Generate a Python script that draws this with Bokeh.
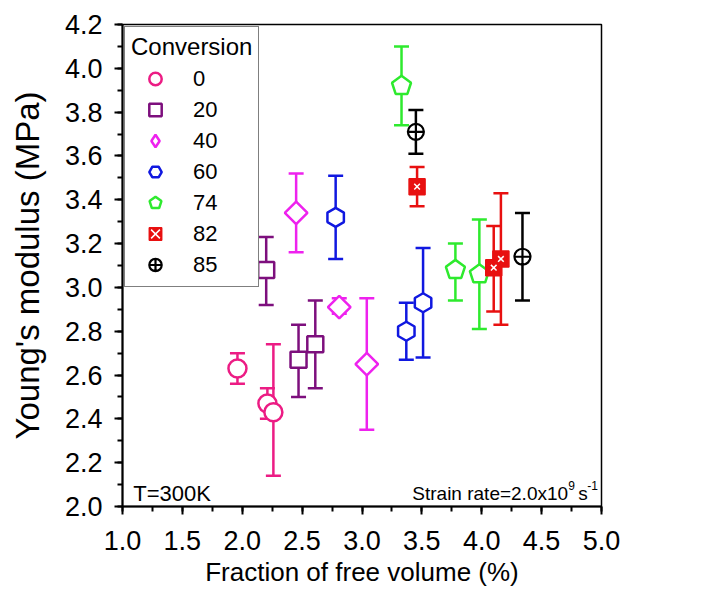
import math
from bokeh.plotting import figure
from bokeh.models import (ColumnDataSource, Whisker, TeeHead, Legend, LegendItem,
                          Label, Range1d, SingleIntervalTicker, PrintfTickFormatter)
from bokeh.embed import file_html
from bokeh.resources import INLINE

FONT = "Liberation Sans"

# ---- data ----
conversions = ["0", "20", "40", "60", "74", "82", "85"]

x_c0 = [1.96, 2.21, 2.26]
y_c0 = [2.63, 2.47, 2.43]
lo_c0 = [2.56, 2.40, 2.14]
hi_c0 = [2.70, 2.54, 2.74]

x_c20 = [2.20, 2.47, 2.61]
y_c20 = [3.08, 2.67, 2.74]
lo_c20 = [2.92, 2.50, 2.54]
hi_c20 = [3.23, 2.83, 2.94]

x_c40 = [2.45, 2.81, 3.04]
y_c40 = [3.34, 2.91, 2.65]
lo_c40 = [3.16, 2.88, 2.35]
hi_c40 = [3.52, 2.95, 2.95]

x_c60 = [2.78, 3.37, 3.51]
y_c60 = [3.32, 2.80, 2.93]
lo_c60 = [3.13, 2.67, 2.68]
hi_c60 = [3.51, 2.93, 3.18]

x_c74 = [3.33, 3.78, 3.98]
y_c74 = [3.92, 3.08, 3.06]
lo_c74 = [3.74, 2.94, 2.81]
hi_c74 = [4.10, 3.20, 3.31]

x_c82 = [3.46, 4.10, 4.16]
y_c82 = [3.46, 3.09, 3.13]
lo_c82 = [3.37, 2.89, 2.83]
hi_c82 = [3.55, 3.28, 3.43]

x_c85 = [3.45, 4.34]
y_c85 = [3.71, 3.14]
lo_c85 = [3.61, 2.94]
hi_c85 = [3.81, 3.34]

colors = ["#ec1c84", "#7d0f7d", "#ee22ee", "#1018e0", "#2eea2e", "#e81010", "#000000"]

series = [
    (x_c0, y_c0, lo_c0, hi_c0),
    (x_c20, y_c20, lo_c20, hi_c20),
    (x_c40, y_c40, lo_c40, hi_c40),
    (x_c60, y_c60, lo_c60, hi_c60),
    (x_c74, y_c74, lo_c74, hi_c74),
    (x_c82, y_c82, lo_c82, hi_c82),
    (x_c85, y_c85, lo_c85, hi_c85),
]

p = figure(width=696, height=594, output_backend="svg", toolbar_location=None,
           x_range=Range1d(1.0, 5.0), y_range=Range1d(2.0, 4.2),
           min_border_left=122, min_border_right=95, min_border_top=24, min_border_bottom=88)
p.grid.visible = False
p.background_fill_color = "white"
p.border_fill_color = "white"
p.outline_line_color = "black"
p.outline_line_width = 1.5

p.xaxis.ticker = SingleIntervalTicker(interval=0.5, num_minor_ticks=2)
p.yaxis.ticker = SingleIntervalTicker(interval=0.2, num_minor_ticks=2)
p.xaxis.formatter = PrintfTickFormatter(format="%.1f")
p.yaxis.formatter = PrintfTickFormatter(format="%.1f")
p.xaxis.axis_label = "Fraction of free volume (%)"
p.yaxis.axis_label = "Young's modulus (MPa)"
for ax in (p.xaxis, p.yaxis):
    ax.axis_line_width = 2
    ax.axis_line_color = "black"
    ax.major_tick_line_width = 2
    ax.minor_tick_line_width = 2
    ax.major_tick_out = 8
    ax.major_tick_in = 0
    ax.minor_tick_out = 5
    ax.minor_tick_in = 0
    ax.major_label_text_font = FONT
    ax.major_label_text_font_size = "27px"
    ax.major_label_text_color = "black"
    ax.axis_label_text_font = FONT
    ax.axis_label_text_font_style = "normal"
    ax.axis_label_text_color = "black"
p.xaxis.axis_label_text_font_size = "26px"
p.yaxis.axis_label_text_font_size = "33px"
p.xaxis.major_label_standoff = 16
p.yaxis.major_label_standoff = 12
p.xaxis.axis_label_standoff = 4
p.yaxis.axis_label_standoff = 16

items = []
for i, (xs, ys, lo, hi) in enumerate(series):
    c = colors[i]
    src = ColumnDataSource(dict(x=xs, y=ys, lower=lo, upper=hi))
    p.add_layout(Whisker(source=src, base="x", lower="lower", upper="upper",
                         line_color=c, line_width=2.5,
                         upper_head=TeeHead(size=15, line_color=c, line_width=2.5),
                         lower_head=TeeHead(size=15, line_color=c, line_width=2.5)))
    rends = []
    if i == 0:
        rends.append(p.scatter("x", "y", source=src, marker="circle", size=18,
                               line_color=c, line_width=2.5, fill_color="white"))
    elif i == 1:
        rends.append(p.scatter("x", "y", source=src, marker="square", size=16,
                               line_color=c, line_width=2.5, fill_color="white"))
    elif i == 2:
        # narrow diamond used for the legend swatch; hidden under the rotated squares
        rends.append(p.scatter("x", "y", source=src, marker="diamond", size=17,
                               line_color=c, line_width=2.5, fill_color="white"))
        p.scatter("x", "y", source=src, marker="square", size=16, angle=math.pi / 4,
                  line_color=c, line_width=2.5, fill_color="white")
    elif i == 3:
        rends.append(p.scatter("x", "y", source=src, marker="hex", size=19, angle=math.pi / 2,
                               line_color=c, line_width=2.5, fill_color="white"))
    elif i == 4:
        rends.append(p.ngon("x", "y", source=src, radius=10, radius_units="screen", n=5,
                            angle=0,
                            line_color=c, line_width=2.5, fill_color="white"))
    elif i == 5:
        rends.append(p.scatter("x", "y", source=src, marker="square", size=16,
                               line_color=c, line_width=1.5, fill_color=c))
        rends.append(p.scatter("x", "y", source=src, marker="x", size=8,
                               line_color="white", line_width=1.5))
    else:
        rends.append(p.scatter("x", "y", source=src, marker="circle_cross", size=16,
                               line_color=c, line_width=2.2, fill_color="white"))
    items.append(LegendItem(label=conversions[i], renderers=rends))

legend = Legend(items=items, location="top_left", title="Conversion",
                margin=2, padding=6, spacing=0, glyph_width=48, glyph_height=31,
                label_height=31, label_standoff=14,
                label_text_font=FONT, label_text_font_size="22px", label_text_color="black",
                title_text_font=FONT, title_text_font_size="24px", title_text_color="black",
                title_text_font_style="normal", title_standoff=2,
                border_line_color="black", border_line_width=1,
                background_fill_color="white", background_fill_alpha=1.0)
p.add_layout(legend)

# annotations
p.add_layout(Label(x=1.09, y=2.06, text="T=300K", text_font=FONT, text_baseline="alphabetic",
                   text_font_size="22px", text_color="black"))
sx0 = 3.42
strain_parts = [
    ("Strain rate=2.0x10", "19px", 0, 0),
    ("9", "12px", 156, 8),
    ("s", "19px", 166, 0),
    ("-1", "12px", 175, 8),
]
for txt, fs, dx, dy in strain_parts:
    p.add_layout(Label(x=sx0, y=2.06, x_offset=dx, y_offset=dy, text=txt, text_font=FONT,
                       text_baseline="alphabetic", text_font_size=fs, text_color="black"))

open("out.html", "w").write(file_html(p, INLINE))
